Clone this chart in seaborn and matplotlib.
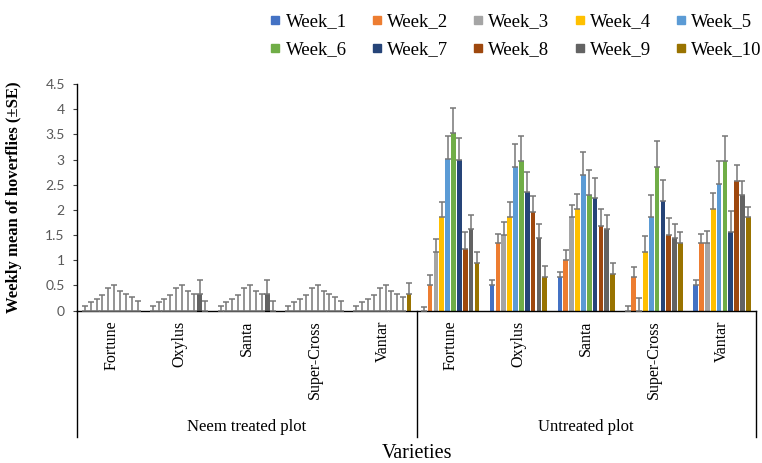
import numpy as np
import pandas as pd
import matplotlib
matplotlib.use('Agg')
import matplotlib.pyplot as plt
import matplotlib.transforms as mtransforms
from matplotlib.lines import Line2D
import seaborn as sns

# ============================================================
# Data
# ============================================================
treatments = ['Neem treated plot', 'Untreated plot']
varieties = ['Fortune', 'Oxylus', 'Santa', 'Super-Cross', 'Vantar']
weeks = ['Week_1', 'Week_2', 'Week_3', 'Week_4', 'Week_5',
         'Week_6', 'Week_7', 'Week_8', 'Week_9', 'Week_10']

neem_fortune = [0, 0, 0, 0, 0, 0, 0, 0, 0, 0]
neem_oxylus = [0, 0, 0, 0, 0, 0, 0, 0, 0.33, 0]
neem_santa = [0, 0, 0, 0, 0, 0, 0, 0, 0.33, 0]
neem_supercross = [0, 0, 0, 0, 0, 0, 0, 0, 0, 0]
neem_vantar = [0, 0, 0, 0, 0, 0, 0, 0, 0, 0.33]

neem_fortune_se = [0.09, 0.17, 0.23, 0.31, 0.45, 0.51, 0.39, 0.33, 0.27, 0.19]
neem_oxylus_se = [0.09, 0.17, 0.23, 0.31, 0.45, 0.51, 0.39, 0.33, 0.28, 0.19]
neem_santa_se = [0.09, 0.17, 0.23, 0.31, 0.45, 0.51, 0.39, 0.33, 0.28, 0.19]
neem_supercross_se = [0.09, 0.17, 0.23, 0.31, 0.45, 0.51, 0.39, 0.33, 0.27, 0.19]
neem_vantar_se = [0.09, 0.17, 0.23, 0.31, 0.45, 0.51, 0.39, 0.33, 0.27, 0.22]

untr_fortune = [0, 0.5, 1.17, 1.85, 3.02, 3.53, 3.0, 1.23, 1.62, 0.95]
untr_oxylus = [0.5, 1.34, 1.51, 1.85, 2.86, 2.97, 2.35, 1.96, 1.45, 0.67]
untr_santa = [0.67, 1.01, 1.85, 2.02, 2.69, 2.3, 2.24, 1.68, 1.62, 0.73]
untr_supercross = [0, 0.67, 0, 1.17, 1.85, 2.86, 2.18, 1.51, 1.45, 1.34]
untr_vantar = [0.5, 1.34, 1.34, 2.02, 2.52, 2.97, 1.57, 2.58, 2.3, 1.85]

untr_fortune_se = [0.08, 0.2, 0.26, 0.31, 0.45, 0.5, 0.42, 0.33, 0.28, 0.21]
untr_oxylus_se = [0.1, 0.19, 0.25, 0.31, 0.45, 0.5, 0.41, 0.31, 0.28, 0.21]
untr_santa_se = [0.09, 0.19, 0.24, 0.3, 0.45, 0.5, 0.4, 0.33, 0.28, 0.21]
untr_supercross_se = [0.09, 0.19, 0.25, 0.32, 0.45, 0.5, 0.41, 0.33, 0.28, 0.22]
untr_vantar_se = [0.1, 0.19, 0.25, 0.31, 0.45, 0.5, 0.4, 0.32, 0.28, 0.2]

ytick_values = [0, 0.5, 1, 1.5, 2, 2.5, 3, 3.5, 4, 4.5]
ytick_labels = ['0', '0.5', '1', '1.5', '2', '2.5', '3', '3.5', '4', '4.5']

week_colors = ['#4472C4', '#ED7D31', '#A5A5A5', '#FFC000', '#5B9BD5',
               '#70AD47', '#264478', '#9E480E', '#636363', '#997300']

means = [neem_fortune, neem_oxylus, neem_santa, neem_supercross, neem_vantar,
         untr_fortune, untr_oxylus, untr_santa, untr_supercross, untr_vantar]
ses = [neem_fortune_se, neem_oxylus_se, neem_santa_se, neem_supercross_se, neem_vantar_se,
       untr_fortune_se, untr_oxylus_se, untr_santa_se, untr_supercross_se, untr_vantar_se]

# long table for seaborn
groups = [f'{t}|{v}' for t in treatments for v in varieties]
rows = []
for g, m, s in zip(groups, means, ses):
    for w, val, err in zip(weeks, m, s):
        rows.append({'group': g, 'week': w, 'mean': val, 'se': err})
df = pd.DataFrame(rows)

# ============================================================
# Plot
# ============================================================
serif = ['Liberation Serif', 'DejaVu Serif']

fig = plt.figure(figsize=(7.62, 4.63), dpi=100)
ax = fig.add_axes([0.1015, 0.329, 0.8905, 0.4896])

sns.barplot(data=df, x='group', y='mean', hue='week', order=groups,
            hue_order=weeks, palette=week_colors, saturation=1,
            width=0.863, gap=0.2, errorbar=None, legend=False, ax=ax)

# plus-only error bars (±SE drawn upward like the Excel original)
bar_containers = list(ax.containers)
for week_idx, container in enumerate(bar_containers):
    xs, ys, errs = [], [], []
    for grp_idx, bar in enumerate(container):
        xs.append(bar.get_x() + bar.get_width() / 2)
        ys.append(bar.get_height())
        errs.append(ses[grp_idx][week_idx])
    ax.errorbar(xs, ys, yerr=[np.zeros(len(errs)), errs], fmt='none',
                ecolor='#767676', elinewidth=1.1, capsize=2.3, capthick=1.1,
                zorder=3)

ax.set_xlim(-0.5, len(groups) - 0.5)
ax.set_ylim(0, 4.5)
ax.set_yticks(ytick_values)
ax.set_yticklabels(ytick_labels, fontfamily='Lato', fontsize=10, color='#595959')
ax.tick_params(axis='y', length=3, width=0.8, color='#404040', pad=6)
ax.set_xticks(range(len(groups)))
ax.set_xticklabels(varieties * 2, rotation=90, fontfamily=serif, fontsize=11.5)
ax.tick_params(axis='x', length=0, pad=7)
ax.set_xlabel('')
ax.set_ylabel('Weekly mean of hoverflies (±SE)', fontfamily=serif,
              fontsize=12, fontweight='bold')
ax.yaxis.set_label_coords(-0.0815, 0.5)

for side in ['top', 'right']:
    ax.spines[side].set_visible(False)
ax.spines['left'].set_color('black')
ax.spines['bottom'].set_color('black')
ax.spines['left'].set_linewidth(1)
ax.spines['bottom'].set_linewidth(1)

# category separators below the axis
trans = mtransforms.blended_transform_factory(ax.transData, ax.transAxes)
for xpos in [-0.5, 4.5, 9.5]:
    ax.plot([xpos, xpos], [0, -0.557], color='black', lw=1,
            transform=trans, clip_on=False)
for i, t in enumerate(treatments):
    ax.text(2 + 5 * i, -0.513, t, transform=trans, ha='center', va='center',
            fontfamily=serif, fontsize=12)
ax.text(0.5, -0.632, 'Varieties', transform=ax.transAxes, ha='center',
        va='center', fontfamily=serif, fontsize=14.5)

# legend, filled row by row (matplotlib fills by column, so reorder)
handles = [Line2D([], [], marker='s', linestyle='none', markersize=5.5,
                  markerfacecolor=c, markeredgecolor=c) for c in week_colors]
order = [0, 5, 1, 6, 2, 7, 3, 8, 4, 9]
fig.legend([handles[i] for i in order], [weeks[i] for i in order],
           ncol=5, loc='upper right',
           bbox_to_anchor=(1.017, 1.0), frameon=False,
           prop={'family': serif, 'size': 13.5},
           handlelength=0.6, handletextpad=0.25, columnspacing=1.3,
           labelspacing=0.6, borderpad=0.2)

plt.savefig('out.png', dpi=100)
